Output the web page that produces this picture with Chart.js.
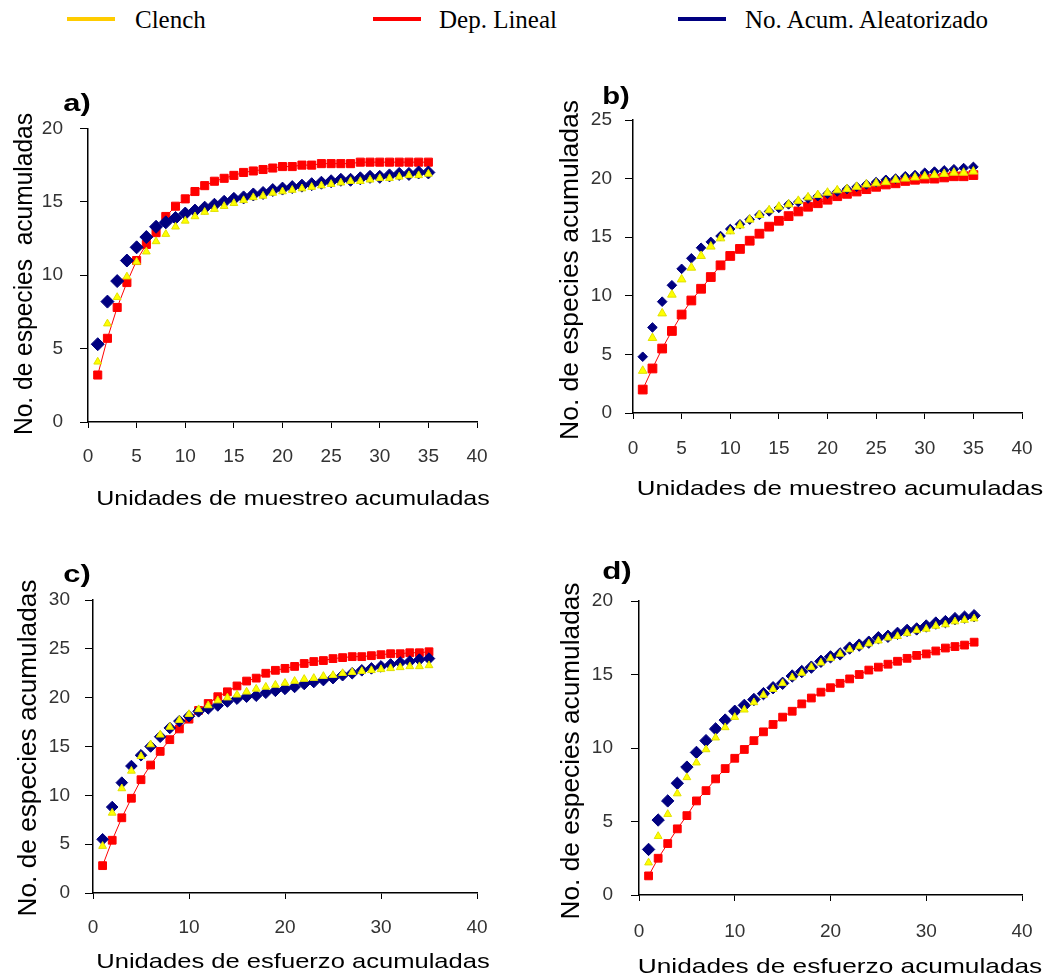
<!DOCTYPE html>
<html>
<head>
<meta charset="utf-8">
<script src="https://cdn.jsdelivr.net/npm/chart.js@4.4.0/dist/chart.umd.min.js"></script>
<style>
  body { margin: 0; width: 1053px; height: 980px; background: #fff; position: relative; overflow: hidden;
         font-family: "Liberation Sans", Arial, sans-serif; color: #000; }
  canvas { position: absolute; }
  .fit { position: absolute; white-space: pre; line-height: 1; }
  .ttl { font-size: 21px; }
  .ytl { font-size: 26px; }
  .pl  { font-size: 24px; font-weight: bold; }
  .leg { position: absolute; top: 0; line-height: 40px; font-family: "Liberation Serif", "Times New Roman", serif; font-size: 25px; }
  .sw  { position: absolute; top: 17px; width: 48px; height: 4px; }
</style>
</head>
<body>

<!-- shared legend -->
<div class="sw" style="left:67px;background:#FFCC00"></div>
<div class="leg" style="left:135px">Clench</div>
<div class="sw" style="left:373px;background:#FF0000"></div>
<div class="leg" style="left:439px">Dep. Lineal</div>
<div class="sw" style="left:678px;background:#000080"></div>
<div class="leg" style="left:745px">No. Acum. Aleatorizado</div>

<canvas id="chartA" width="520" height="400" style="left:0;top:100px"></canvas>
<canvas id="chartB" width="493" height="400" style="left:560px;top:90px"></canvas>
<canvas id="chartC" width="520" height="390" style="left:0;top:570px"></canvas>
<canvas id="chartD" width="493" height="390" style="left:560px;top:570px"></canvas>

<!-- panel letters and axis titles -->
<div class="fit pl" data-x="77" data-y="103" data-w="27">a)</div>
<div class="fit pl" data-x="616" data-y="96" data-w="28">b)</div>
<div class="fit pl" data-x="77" data-y="574" data-w="27">c)</div>
<div class="fit pl" data-x="617" data-y="571" data-w="30">d)</div>

<div class="fit ytl" data-x="23" data-y="274" data-w="322" data-rot="1">No. de especies  acumuladas</div>
<div class="fit ytl" data-x="569" data-y="270" data-w="340" data-rot="1">No. de especies acumuladas</div>
<div class="fit ytl" data-x="27" data-y="748" data-w="337" data-rot="1">No. de especies acumuladas</div>
<div class="fit ytl" data-x="570" data-y="751" data-w="337" data-rot="1">No. de especies acumuladas</div>

<div class="fit ttl" data-x="293" data-y="497" data-w="393">Unidades de muestreo acumuladas</div>
<div class="fit ttl" data-x="840" data-y="487" data-w="406">Unidades de muestreo acumuladas</div>
<div class="fit ttl" data-x="293" data-y="960" data-w="393">Unidades de esfuerzo acumuladas</div>
<div class="fit ttl" data-x="840" data-y="965" data-w="404">Unidades de esfuerzo acumuladas</div>

<script>
// sampling units 1..35
const units = [1, 2, 3, 4, 5, 6, 7, 8, 9, 10, 11, 12, 13, 14, 15, 16, 17, 18, 19, 20,
               21, 22, 23, 24, 25, 26, 27, 28, 29, 30, 31, 32, 33, 34, 35];

// a) muestreo
const clenchA = [4.1, 6.7, 8.5, 9.9, 10.9, 11.6, 12.3, 12.8, 13.3, 13.7, 14.0, 14.3, 14.5, 14.7, 14.9, 15.1, 15.3, 15.4, 15.6, 15.7,
                 15.8, 15.9, 16.0, 16.1, 16.2, 16.3, 16.4, 16.4, 16.5, 16.6, 16.6, 16.7, 16.8, 16.8, 16.9];
const linealA = [3.2, 5.7, 7.8, 9.5, 11.0, 12.1, 12.9, 14.0, 14.7, 15.2, 15.7, 16.1, 16.4, 16.6, 16.8, 17.0, 17.1, 17.2, 17.3, 17.4,
                 17.4, 17.5, 17.5, 17.6, 17.6, 17.6, 17.6, 17.7, 17.7, 17.7, 17.7, 17.7, 17.7, 17.7, 17.7];
const aleatA  = [5.3, 8.2, 9.6, 11.0, 11.9, 12.6, 13.3, 13.6, 13.9, 14.2, 14.4, 14.6, 14.8, 15.0, 15.2, 15.3, 15.5, 15.6, 15.8, 15.9,
                 16.0, 16.1, 16.2, 16.3, 16.4, 16.5, 16.5, 16.6, 16.7, 16.7, 16.8, 16.9, 16.9, 17.0, 17.0];

// b) muestreo
const clenchB = [3.6, 6.4, 8.5, 10.1, 11.4, 12.4, 13.4, 14.2, 14.9, 15.5, 16.0, 16.5, 16.9, 17.3, 17.6, 17.8, 18.1, 18.4, 18.6, 18.8,
                 19.0, 19.1, 19.3, 19.5, 19.6, 19.7, 19.9, 20.0, 20.1, 20.2, 20.3, 20.4, 20.5, 20.5, 20.6];
const linealB = [2.0, 3.8, 5.5, 7.0, 8.4, 9.6, 10.6, 11.6, 12.6, 13.4, 14.0, 14.7, 15.3, 15.9, 16.4, 16.8, 17.2, 17.6, 17.9, 18.2,
                 18.5, 18.7, 18.9, 19.1, 19.3, 19.5, 19.6, 19.8, 19.9, 20.0, 20.0, 20.1, 20.2, 20.2, 20.3];
const aleatB  = [4.8, 7.3, 9.5, 10.9, 12.3, 13.2, 14.1, 14.6, 15.1, 15.7, 16.1, 16.5, 16.9, 17.2, 17.5, 17.8, 18.0, 18.3, 18.5, 18.7,
                 18.9, 19.1, 19.3, 19.5, 19.7, 19.9, 20.0, 20.2, 20.3, 20.5, 20.6, 20.7, 20.8, 20.9, 21.0];

// c) esfuerzo
const clenchC = [4.8, 8.2, 10.7, 12.5, 14.0, 15.2, 16.2, 17.0, 17.7, 18.3, 18.8, 19.2, 19.7, 20.0, 20.3, 20.6, 20.9, 21.1, 21.3, 21.5,
                 21.7, 21.9, 22.0, 22.2, 22.3, 22.5, 22.6, 22.7, 22.8, 22.9, 23.0, 23.1, 23.2, 23.2, 23.3];
const linealC = [2.8, 5.4, 7.7, 9.7, 11.6, 13.1, 14.5, 15.7, 16.8, 17.8, 18.7, 19.4, 20.1, 20.6, 21.2, 21.7, 22.0, 22.5, 22.8, 23.0,
                 23.2, 23.5, 23.7, 23.8, 24.0, 24.1, 24.2, 24.2, 24.3, 24.4, 24.5, 24.5, 24.6, 24.6, 24.7];
const aleatC  = [5.5, 8.8, 11.3, 13.0, 14.1, 15.0, 16.0, 16.9, 17.6, 18.1, 18.6, 18.9, 19.2, 19.6, 19.9, 20.1, 20.2, 20.5, 20.7, 20.9,
                 21.1, 21.4, 21.6, 21.8, 22.0, 22.3, 22.5, 22.8, 23.0, 23.2, 23.4, 23.6, 23.7, 23.9, 24.0];

// d) esfuerzo
const clenchD = [2.2, 4.0, 5.5, 6.9, 8.0, 9.0, 9.9, 10.7, 11.4, 12.1, 12.6, 13.1, 13.6, 14.0, 14.4, 14.8, 15.1, 15.5, 15.8, 16.1,
                 16.4, 16.7, 16.9, 17.1, 17.3, 17.5, 17.6, 17.8, 18.0, 18.1, 18.3, 18.4, 18.6, 18.7, 18.8];
const linealD = [1.3, 2.5, 3.5, 4.5, 5.4, 6.4, 7.1, 7.9, 8.6, 9.3, 9.9, 10.5, 11.1, 11.6, 12.1, 12.5, 13.0, 13.4, 13.8, 14.1,
                 14.4, 14.7, 15.0, 15.3, 15.5, 15.7, 15.9, 16.1, 16.3, 16.4, 16.6, 16.8, 16.9, 17.0, 17.2];
const aleatD  = [3.1, 5.1, 6.4, 7.6, 8.7, 9.7, 10.5, 11.3, 11.9, 12.5, 12.9, 13.3, 13.7, 14.1, 14.4, 14.9, 15.2, 15.5, 15.9, 16.2,
                 16.4, 16.8, 17.0, 17.2, 17.5, 17.6, 17.8, 18.0, 18.1, 18.3, 18.5, 18.6, 18.8, 18.9, 19.0];

// tick labels
const xTicksAB = [0, 5, 10, 15, 20, 25, 30, 35, 40];
const xTicksCD = [0, 10, 20, 30, 40];
const yTicksA = [0, 5, 10, 15, 20];
const yTicksB = [0, 5, 10, 15, 20, 25];
const yTicksC = [0, 5, 10, 15, 20, 25, 30];
const yTicksD = [0, 5, 10, 15, 20];

const toPoints = vals => vals.map((v, i) => ({ x: units[i], y: v }));
const tickFont = { family: '"Liberation Sans", Arial, sans-serif', size: 19 };

function makePanel(id, p) {
  return new Chart(document.getElementById(id), {
    type: 'scatter',
    data: {
      datasets: [
        {
          label: 'Clench', data: toPoints(p.clench), showLine: false,
          pointStyle: 'triangle', pointRadius: p.tri,
          pointBackgroundColor: '#FFFF00', pointBorderColor: '#E0E000', pointBorderWidth: 1
        },
        {
          label: 'No. Acum. Aleatorizado', data: toPoints(p.aleat), showLine: false,
          pointStyle: 'rectRot', pointRadius: p.dia,
          pointBackgroundColor: '#000080', pointBorderColor: '#000080', pointBorderWidth: 1
        },
        {
          label: 'Dep. Lineal', data: toPoints(p.lineal), showLine: true,
          borderColor: '#FF0000', borderWidth: 1, tension: 0,
          pointStyle: 'rect', pointRadius: p.sq,
          pointBackgroundColor: '#FF0000', pointBorderColor: '#FF0000', pointBorderWidth: 1
        }
      ]
    },
    options: {
      responsive: false,
      animation: false,
      layout: { padding: { top: p.padTop, right: p.padRight, left: 0, bottom: 0 } },
      plugins: { legend: { display: false }, tooltip: { enabled: false } },
      scales: {
        x: {
          type: 'linear',
          min: p.xTicks[0],
          max: p.xTicks[p.xTicks.length - 1],
          afterBuildTicks: s => { s.ticks = p.xTicks.map(v => ({ value: v })); },
          grid: { drawOnChartArea: false, drawTicks: true, tickLength: 6, color: '#000' },
          border: { color: '#000', width: 1.5 },
          ticks: { color: '#333', font: tickFont, padding: p.xPad, autoSkip: false, maxRotation: 0 },
          afterFit: s => { s.height = p.xH; }
        },
        y: {
          type: 'linear',
          min: p.yTicks[0],
          max: p.yTicks[p.yTicks.length - 1],
          afterBuildTicks: s => { s.ticks = p.yTicks.map(v => ({ value: v })); },
          grid: { drawOnChartArea: false, drawTicks: true, tickLength: 8, color: '#000' },
          border: { color: '#000', width: 1.5 },
          ticks: { color: '#333', font: tickFont, padding: p.yPad },
          afterFit: s => { s.width = p.yW; }
        }
      }
    }
  });
}

makePanel('chartA', { clench: clenchA, lineal: linealA, aleat: aleatA, xTicks: xTicksAB, yTicks: yTicksA,
  tri: 4.5, dia: 6.5, sq: 5.7, padTop: 28, padRight: 43, xH: 78, yW: 88, xPad: 17.6, yPad: 17 });
makePanel('chartB', { clench: clenchB, lineal: linealB, aleat: aleatB, xTicks: xTicksAB, yTicks: yTicksB,
  tri: 5, dia: 4.8, sq: 6.2, padTop: 30, padRight: 31, xH: 77, yW: 73, xPad: 18.6, yPad: 13 });
makePanel('chartC', { clench: clenchC, lineal: linealC, aleat: aleatC, xTicks: xTicksCD, yTicks: yTicksC,
  tri: 4.5, dia: 5.8, sq: 5.5, padTop: 30, padRight: 43, xH: 67, yW: 93, xPad: 17.6, yPad: 15 });
makePanel('chartD', { clench: clenchD, lineal: linealD, aleat: aleatD, xTicks: xTicksCD, yTicks: yTicksD,
  tri: 4.5, dia: 6.2, sq: 5.5, padTop: 31, padRight: 31, xH: 65, yW: 79, xPad: 19.6, yPad: 18 });

// place titles: centre on (x, y), stretch text to the measured length
document.querySelectorAll('.fit').forEach(el => {
  const k = Number(el.dataset.w) / el.offsetWidth;
  el.style.left = el.dataset.x + 'px';
  el.style.top = el.dataset.y + 'px';
  el.style.transform = 'translate(-50%, -50%)' + (el.dataset.rot ? ' rotate(-90deg)' : '') + ' scaleX(' + k + ')';
});
</script>
</body>
</html>
